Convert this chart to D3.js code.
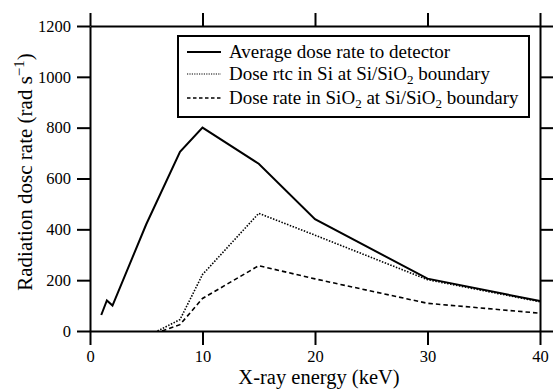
<!DOCTYPE html>
<html>
<head>
<meta charset="utf-8">
<script src="https://cdn.jsdelivr.net/npm/d3@7"></script>
</head>
<body style="margin:0">
<svg id="s" width="553" height="391"></svg>
<script>
// values
var energyAvg = [1, 1.5, 2, 5, 8, 10, 15, 20, 30, 40];
var avgDose   = [63, 120, 100, 420, 705, 800, 658, 440, 206, 118];
var energySi  = [6, 8, 10, 15, 20, 30, 40];
var siDose    = [0, 45, 222, 463, 377, 202, 115];
var energyOx  = [6.4, 8, 10, 15, 20, 30, 40];
var oxDose    = [0, 25, 128, 257, 205, 109, 70];
var xTicks = [0, 10, 20, 30, 40];
var yTicks = [0, 200, 400, 600, 800, 1000, 1200];

var FONT = 'Liberation Serif';

var config = {
    width: 553,
    height: 391,
    margin: {top: 26, right: 13, bottom: 60, left: 90}
};

var svg = d3.select('#s');

var inner_width = config.width - config.margin.left - config.margin.right;
var inner_height = config.height - config.margin.top - config.margin.bottom;

var chart = svg.append('g')
    .attr('transform', `translate(${config.margin.left}, ${config.margin.top})`);

var xscale = d3.scaleLinear().domain([0, 40]).range([0, inner_width]);
var yscale = d3.scaleLinear().domain([0, 1200]).range([inner_height, 0]);

function styleAxis(g) {
    g.select('.domain').attr('stroke-width', 2);
    g.selectAll('.tick line').attr('stroke-width', 2);
    g.selectAll('.tick text')
        .attr('font-family', FONT)
        .attr('font-size', 16.5)
        .attr('fill', '#000');
}

chart.append('g')
    .attr('transform', `translate(0, ${inner_height})`)
    .call(d3.axisBottom(xscale).tickValues(xTicks).tickSize(14).tickSizeOuter(0).tickPadding(5).tickFormat(d3.format('d')))
    .call(styleAxis);

chart.append('g')
    .call(d3.axisTop(xscale).tickValues(xTicks).tickSize(13).tickSizeOuter(0).tickFormat(''))
    .call(styleAxis);

chart.append('g')
    .call(d3.axisLeft(yscale).tickValues(yTicks).tickSize(13).tickSizeOuter(0).tickPadding(6).tickFormat(d3.format('d')))
    .call(styleAxis);

chart.append('g')
    .attr('transform', `translate(${inner_width}, 0)`)
    .call(d3.axisRight(yscale).tickValues(yTicks).tickSize(13).tickSizeOuter(0).tickFormat(''))
    .call(styleAxis);

var line = d3.line()
    .x(d => xscale(d[0]))
    .y(d => yscale(d[1]));

var series = [
    {x: energyAvg, y: avgDose, width: 2, dash: null},
    {x: energySi, y: siDose, width: 1.6, dash: '1.5,1.5'},
    {x: energyOx, y: oxDose, width: 1.6, dash: '4.5,3'}
];

chart.selectAll('.series').data(series).join('path')
    .attr('class', 'series')
    .attr('fill', 'none')
    .attr('stroke', '#000')
    .attr('stroke-width', d => d.width)
    .attr('stroke-dasharray', d => d.dash)
    .attr('d', d => line(d.x.map((v, i) => [v, d.y[i]])));

// legend
var legend = svg.append('g').attr('transform', 'translate(178, 36)');
legend.append('rect')
    .attr('width', 351).attr('height', 81)
    .attr('fill', '#fff').attr('stroke', '#000').attr('stroke-width', 2);

var rows = [
    {cy: 16, dash: null, width: 2, parts: [['Average dose rate to detector', false]]},
    {cy: 38, dash: '1.2,1.2', width: 1.2, parts: [['Dose rtc in Si at Si/SiO', false], ['2', true], [' boundary', false]]},
    {cy: 62, dash: '3.5,2.5', width: 1.4, parts: [['Dose rate in SiO', false], ['2', true], [' at Si/SiO', false], ['2', true], [' boundary', false]]}
];

rows.forEach(r => {
    legend.append('line')
        .attr('x1', 9).attr('x2', 43).attr('y1', r.cy).attr('y2', r.cy)
        .attr('stroke', '#000').attr('stroke-width', r.width)
        .attr('stroke-dasharray', r.dash);
    var t = legend.append('text')
        .attr('x', 51).attr('y', r.cy + 5.5)
        .attr('font-family', FONT)
        .attr('font-size', 19);
    var prevSub = false;
    r.parts.forEach(p => {
        if (p[1]) {
            t.append('tspan').attr('dy', 4).attr('font-size', 13).text(p[0]);
            prevSub = true;
        } else {
            var s = t.append('tspan').text(p[0]);
            if (prevSub) s.attr('dy', -4);
            prevSub = false;
        }
    });
});

// axis titles
svg.append('text')
    .attr('x', 319)
    .attr('y', 384)
    .attr('text-anchor', 'middle')
    .attr('font-family', FONT)
    .attr('font-size', 20.5)
    .text('X-ray energy (keV)');

var ytitle = svg.append('text')
    .attr('transform', 'translate(32, 172) rotate(-90)')
    .attr('text-anchor', 'middle')
    .attr('font-family', FONT)
    .attr('font-size', 21);
ytitle.append('tspan').text('Radiation dosc rate (rad s');
ytitle.append('tspan').attr('dy', -8).attr('font-size', 15).text('\u22121');
ytitle.append('tspan').attr('dy', 8).text(')');
</script>
</body>
</html>
